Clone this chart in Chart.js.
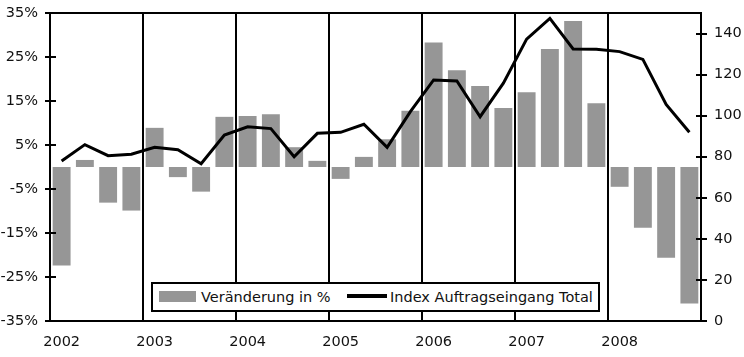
<!DOCTYPE html>
<html><head><meta charset="utf-8">
<script src="https://cdn.jsdelivr.net/npm/chart.js@4/dist/chart.umd.min.js"></script>
<style>
html,body{margin:0;padding:0;background:#fff;}
#wrap{position:relative;width:744px;height:357px;}
#legend{position:absolute;left:151px;top:282px;width:445px;height:26px;border:2px solid #000;background:#fff;font-family:'DejaVu Sans',sans-serif;font-size:14.5px;color:#111;}
#legend .sw1{position:absolute;left:6px;top:7px;width:37px;height:11px;background:#969696;}
#legend .t1{position:absolute;left:48px;top:0;line-height:26px;white-space:nowrap;}
#legend .sw2{position:absolute;left:194px;top:10px;width:40px;height:4px;background:#000;}
#legend .t2{position:absolute;left:237px;top:0;line-height:26px;white-space:nowrap;}
</style>
</head><body>
<div id="wrap"><canvas id="c" width="744" height="357"></canvas>
<div id="legend"><span class="sw1"></span><span class="t1">Veränderung in %</span><span class="sw2"></span><span class="t2">Index Auftragseingang Total</span></div>
</div>
<script>
const years = ['2002','2003','2004','2005','2006','2007','2008'];
const quarters = ['Q1','Q2','Q3','Q4'];
const barValues = [-22.4,1.6,-8.1,-9.9, 8.9,-2.3,-5.6,11.4, 11.6,12.0,4.5,1.4, -2.7,2.3,6.3,12.8, 28.3,22.0,18.4,13.4, 17.0,26.8,33.2,14.5, -4.5,-13.8,-20.6,-31.0];
const indexValues = [77.9,85.9,80.5,81.2, 84.6,83.4,76.6,90.6, 94.6,93.7,80.0,91.4, 91.9,95.8,84.6,102.0, 117.4,116.9,99.5,115.8, 137.3,147.4,132.5,132.3, 131.2,127.4,105.5,91.9];
const leftTicks = [-35,-25,-15,-5,5,15,25,35];
const rightTicks = [0,20,40,60,80,100,120,140];
const seriesNames = ['Veränderung in %','Index Auftragseingang Total'];

const categories = [];
years.forEach(y => quarters.forEach(q => categories.push(y + ' ' + q)));

Chart.defaults.font.family = "'DejaVu Sans', sans-serif";
Chart.defaults.font.size = 14.5;
Chart.defaults.color = '#111';

const framePlugin = {
  id: 'frame',
  afterDraw(chart) {
    const ctx = chart.ctx, a = chart.chartArea;
    ctx.save();
    ctx.strokeStyle = '#000';
    ctx.lineWidth = 2;
    ctx.strokeRect(a.left, a.top, a.right - a.left, a.bottom - a.top);
    ['y','y1'].forEach(id => {
      const s = chart.scales[id];
      const x = id === 'y' ? a.left : a.right;
      s.ticks.forEach(t => {
        const py = Math.round(s.getPixelForValue(t.value));
        ctx.beginPath();
        ctx.moveTo(x - 5, py);
        ctx.lineTo(x + 6, py);
        ctx.stroke();
      });
    });
    ctx.restore();
  }
};

new Chart(document.getElementById('c'), {
  data: {
    labels: categories,
    datasets: [
      {
        type: 'line', label: seriesNames[1], data: indexValues, yAxisID: 'y1',
        borderColor: '#000', borderWidth: 3, pointRadius: 0, tension: 0, order: 0
      },
      {
        type: 'bar', label: seriesNames[0], data: barValues, yAxisID: 'y',
        backgroundColor: '#969696', barPercentage: 0.77, categoryPercentage: 1, order: 1
      }
    ]
  },
  options: {
    responsive: false,
    animation: false,
    layout: { padding: { top: 13, left: 0, right: 0, bottom: 0 } },
    plugins: { legend: { display: false }, tooltip: { enabled: false } },
    scales: {
      x: {
        type: 'category',
        offset: true,
        afterFit(s) { s.height = 36; s.paddingLeft = 0; s.paddingRight = 0; },
        grid: {
          offset: true, drawTicks: false, lineWidth: 2,
          color: ctx => (ctx.index % 4 === 0 ? '#000' : 'rgba(0,0,0,0)')
        },
        border: { display: false },
        ticks: {
          autoSkip: false, maxRotation: 0, padding: 13,
          callback(v, i) { return i % 4 === 0 ? categories[i].slice(0, 4) : ''; }
        }
      },
      y: {
        position: 'left', min: -35, max: 35,
        afterFit(s) { s.width = 50; s.paddingTop = 0; s.paddingBottom = 0; },
        afterBuildTicks(s) { s.ticks = leftTicks.map(v => ({ value: v })); },
        grid: {
          drawTicks: false, lineWidth: 2,
          color: ctx => (ctx.tick && ctx.tick.value === 0 ? '#000' : 'rgba(0,0,0,0)')
        },
        border: { display: false },
        ticks: { padding: 12, callback: v => v + '%' }
      },
      y1: {
        position: 'right', min: 0, max: 150,
        afterFit(s) { s.width = 43; s.paddingTop = 0; s.paddingBottom = 0; },
        afterBuildTicks(s) { s.ticks = rightTicks.map(v => ({ value: v })); },
        grid: { display: false, drawTicks: false },
        border: { display: false },
        ticks: { padding: 13 }
      }
    }
  },
  plugins: [framePlugin]
});
</script>
</body></html>
